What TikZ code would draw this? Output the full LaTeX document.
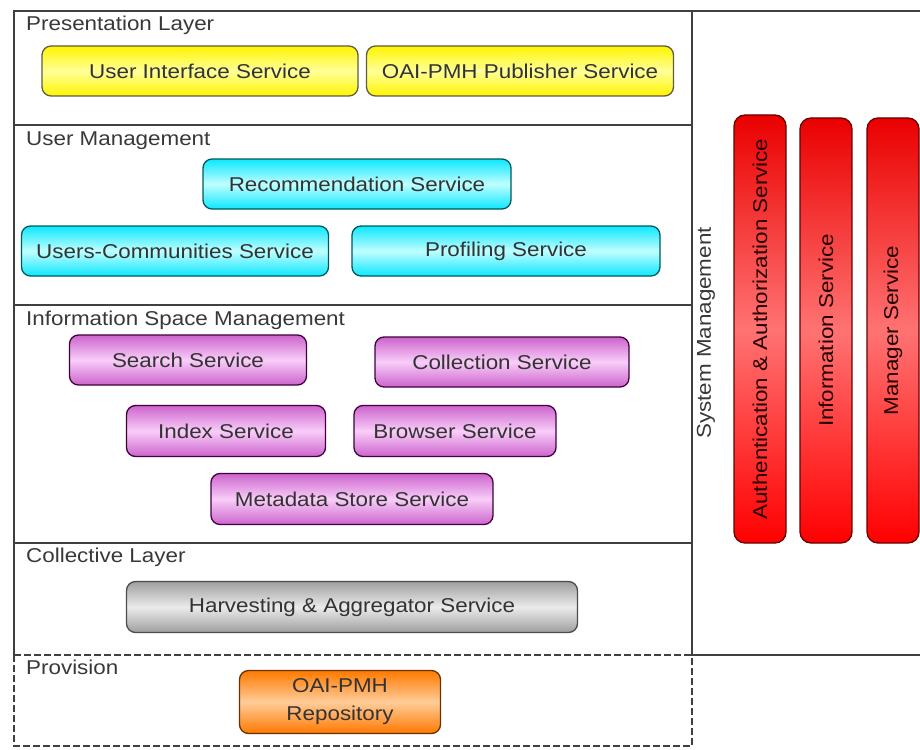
\documentclass[tikz,border=0pt]{standalone}
\usepackage{fontspec}
\setmainfont{Liberation Sans}[FakeStretch=1.12]
\begin{document}
\begin{tikzpicture}[x=1pt,y=-1pt,
  frame/.style={draw=black!75,line width=1.6pt},
  dframe/.style={draw=black!75,line width=1.6pt,dash pattern=on 7pt off 3pt},
  lbl/.style={anchor=base west,text=black!78,font=\fontsize{20}{22}\selectfont,inner sep=0pt},
  svc/.style={rounded corners=9pt,line width=1.3pt,text=black!80,
    font=\fontsize{20}{22}\selectfont,inner sep=0pt,align=center},
  yel/.style={svc,draw=black!60!yellow!70!black,top color=yellow!92!orange,bottom color=yellow!92!orange,middle color=yellow!40},
  cya/.style={svc,draw=teal!70!black,top color=cyan!90!blue!95,bottom color=cyan!90!blue!95,middle color=cyan!25},
  pnk/.style={svc,draw=violet!50!black,top color={rgb,255:red,205;green,100;blue,205},bottom color={rgb,255:red,205;green,100;blue,205},middle color={rgb,255:red,248;green,205;blue,248}},
  gry/.style={svc,draw=black!70,top color=black!38,bottom color=black!38,middle color=black!8},
  org/.style={svc,draw=orange!40!black,top color=orange!95!red,bottom color=orange!95!red,middle color=orange!40},
  redbar/.style={svc,rotate=90,draw=red!40!black,text=black!85!red,top color=red!92!black,bottom color=red,middle color=red!55,rounded corners=11pt}
]
\useasboundingbox (0,0) rectangle (920,749);
% frames
\draw[frame] (692,11) -- (14,11) -- (14,655);
\draw[frame] (692,11) -- (920,11);
\draw[frame] (692,11) -- (692,655) -- (920,655);
\draw[frame] (14,125) -- (692,125);
\draw[frame] (14,305) -- (692,305);
\draw[frame] (14,543) -- (692,543);
\draw[dframe] (14,655) -- (692,655);
\draw[dframe] (14,655) -- (14,746) -- (692,746) -- (692,655);
% layer labels
\node[lbl] (lpres) at (26,31) {Presentation Layer};
\node[lbl] (luser) at (26,145) {User Management};
\node[lbl] (linfo) at (26,325) {Information Space Management};
\node[lbl] (lcoll) at (26,562) {Collective Layer};
\node[lbl] (lprov) at (26,674) {Provision};
\node[text=black!78,font=\fontsize{20}{22}\selectfont,rotate=90,inner sep=0pt] (lsys) at (706,333) {System Management};
% services
\node[yel,minimum width=316pt,minimum height=50pt] (ui) at (200,71) {User Interface Service};
\node[yel,minimum width=307pt,minimum height=50pt] (oai) at (520,71) {OAI-PMH Publisher Service};
\node[cya,minimum width=308pt,minimum height=50pt] (rec) at (357,184) {Recommendation Service};
\node[cya,minimum width=307pt,minimum height=50pt] (uc) at (175,251) {Users-Communities Service};
\node[cya,minimum width=308pt,minimum height=50pt] (prof) at (506,251) {Profiling Service};
\node[pnk,minimum width=237pt,minimum height=50pt] (search) at (188,360) {Search Service};
\node[pnk,minimum width=254pt,minimum height=50pt] (coll) at (502,362) {Collection Service};
\node[pnk,minimum width=199pt,minimum height=51pt] (index) at (226,431) {Index Service};
\node[pnk,minimum width=202pt,minimum height=51pt] (brow) at (455,431) {Browser Service};
\node[pnk,minimum width=282pt,minimum height=51pt] (meta) at (352,499) {Metadata Store Service};
\node[gry,minimum width=451pt,minimum height=51pt] (harv) at (352,607) {Harvesting \& Aggregator Service};
\node[org,minimum width=201pt,minimum height=63pt,font=\fontsize{20}{28}\selectfont] (repo) at (340,702) {OAI-PMH\\Repository};
% system management bars
\node[redbar,minimum width=428pt,minimum height=52pt] (auth) at (760,329) {Authentication \& Authorization Service};
\node[redbar,minimum width=425pt,minimum height=52pt] (info) at (826,330.5) {Information Service};
\node[redbar,minimum width=425pt,minimum height=52pt] (mgr) at (893,330.5) {Manager Service};
\end{tikzpicture}
\end{document}
